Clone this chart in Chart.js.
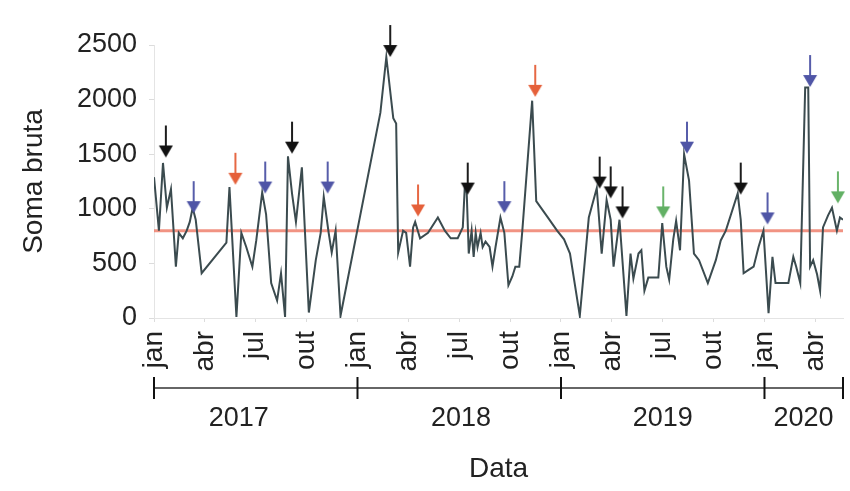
<!DOCTYPE html>
<html lang="pt">
<head>
<meta charset="utf-8">
<title>Soma bruta por data</title>
<script src="https://cdn.jsdelivr.net/npm/chart.js@4/dist/chart.umd.min.js"></script>
<style>
  html, body { margin: 0; padding: 0; background: #fff; }
  canvas { display: block; }
</style>
</head>
<body>
<canvas id="somaChart" width="850" height="491"></canvas>
<script>
/* ================================
   Dados (meses desde jan/2017)
================================ */
const MES_FIM = 40.63;

const mesesSerie = [
  0, 0.29, 0.53, 0.76, 1.00, 1.29, 1.46, 1.70, 1.93, 2.11,
  2.28, 2.46, 2.81, 4.27, 4.45, 4.86, 5.15, 5.44, 5.80, 6.03,
  6.38, 6.61, 6.91, 7.26, 7.49, 7.73, 7.90, 8.14, 8.37, 8.72,
  9.13, 9.54, 9.83, 10.01, 10.30, 10.48, 10.71, 11.00, 13.35, 13.70,
  14.11, 14.28, 14.40, 14.69, 14.87, 15.10, 15.28, 15.40, 15.69, 16.16,
  16.74, 17.15, 17.50, 17.91, 18.21, 18.32, 18.44, 18.56, 18.73, 18.85,
  18.97, 19.08, 19.26, 19.38, 19.55, 19.79, 19.96, 20.14, 20.43, 20.66,
  20.90, 21.13, 21.31, 21.54, 21.72, 22.30, 22.54, 23.18, 23.77, 24.18,
  24.53, 25.11, 25.64, 26.11, 26.40, 26.69, 26.93, 27.10, 27.45, 27.86,
  28.10, 28.27, 28.57, 28.74, 28.92, 29.15, 29.50, 29.74, 29.97, 30.21,
  30.38, 30.62, 30.79, 31.02, 31.26, 31.55, 31.84, 32.14, 32.66, 33.13,
  33.42, 33.72, 34.42, 34.60, 34.77, 35.06, 35.36, 35.65, 35.94, 36.24,
  36.47, 36.65, 36.94, 37.41, 37.70, 37.87, 38.11, 38.40, 38.58, 38.69,
  38.87, 39.10, 39.28, 39.45, 39.75, 39.98, 40.27, 40.45, 40.63
];

const somaBruta = [
  1290, 800, 1420, 1010, 1180, 470, 780, 730, 800, 880,
  1010, 900, 410, 690, 1200, 10, 780, 650, 470, 710,
  1150, 950, 320, 160, 410, 10, 1480, 1140, 880, 1380,
  50, 530, 780, 1110, 780, 600, 800, 20, 1880, 2390,
  1830, 1780, 600, 800, 780, 470, 830, 880, 730, 780,
  920, 800, 730, 730, 830, 1180, 1150, 590, 800, 560,
  780, 650, 780, 650, 700, 650, 470, 650, 920, 780,
  300, 380, 470, 470, 800, 1990, 1070, 930, 800, 720,
  590, 20, 920, 1190, 590, 1080, 900, 470, 900, 20,
  590, 360, 590, 620, 250, 370, 370, 370, 870, 470,
  350, 720, 890, 620, 1500, 1260, 590, 530, 320, 530,
  710, 800, 1140, 900, 410, 440, 470, 650, 800, 45,
  560, 320, 320, 320, 560, 470, 320, 2110, 2110, 470,
  530, 400, 250, 830, 940, 1010, 800, 920, 900
];

const limiar = 800;

// setas de anotação
const setaMes = [0.70, 2.34, 4.80, 6.56, 8.14, 10.24, 13.93, 15.57, 18.50, 20.66,
                 22.48, 26.28, 26.93, 27.63, 30.03, 31.43, 34.60, 36.18, 38.69, 40.33];
const setaVal = [1470, 960, 1220, 1140, 1505, 1140, 2390, 930, 1130, 960,
                 2025, 1185, 1095, 912, 912, 1505, 1130, 857, 2115, 1050];
const setaTipo = ["preto", "azul", "vermelho", "azul", "preto", "azul", "preto", "vermelho", "preto", "azul",
                  "vermelho", "preto", "preto", "preto", "verde", "azul", "preto", "azul", "azul", "verde"];

// eixos
const mesTicks = [0, 3, 6, 9, 12, 15, 18, 21, 24, 27, 30, 33, 36, 39];
const mesNomes = ["jan", "abr", "jul", "out"];
const anosLimites = [0, 12, 24, 36, MES_FIM];
const anosNomes = ["2017", "2018", "2019", "2020"];
const anosRotuloMes = [5, 18.1, 30, 38.3];
const yTicks = [0, 500, 1000, 1500, 2000, 2500];

/* ================================
   Estilo
================================ */
const FONTE = "'Liberation Sans', Arial, sans-serif";
const TXT = "#222";
const coresSeta = {
  preto: "#111111",
  azul: "#4f55a6",
  vermelho: "#e5603a",
  verde: "#62b064"
};

function setaCanvas(cor) {
  const L = 36, w = 16;
  const c = document.createElement("canvas");
  c.width = w;
  c.height = 2 * L;
  const g = c.getContext("2d");
  g.strokeStyle = cor;
  g.lineWidth = 1.9;
  g.beginPath();
  g.moveTo(w / 2, 4);
  g.lineTo(w / 2, L - 10);
  g.stroke();
  g.fillStyle = cor;
  g.beginPath();
  g.moveTo(1, L - 12);
  g.lineTo(w - 1, L - 12);
  g.lineTo(w / 2, L);
  g.closePath();
  g.fill();
  return c;
}

const setaImgs = {};
Object.keys(coresSeta).forEach(k => { setaImgs[k] = setaCanvas(coresSeta[k]); });

/* ================================
   Plugin: régua dos anos
================================ */
const reguaAnos = {
  id: "reguaAnos",
  afterDraw(chart) {
    const { ctx, chartArea, scales } = chart;
    const x = scales.x;
    const linhaY = chartArea.bottom + 70;
    const textoY = chartArea.bottom + 101;
    const px = anosLimites.map(v => x.getPixelForValue(v));

    ctx.save();
    ctx.strokeStyle = "#333";
    ctx.lineWidth = 1.6;
    ctx.beginPath();
    ctx.moveTo(px[0], linhaY);
    ctx.lineTo(px[px.length - 1], linhaY);
    ctx.stroke();

    ctx.strokeStyle = "#111";
    ctx.lineWidth = 2;
    px.forEach(p => {
      ctx.beginPath();
      ctx.moveTo(p, linhaY - 11);
      ctx.lineTo(p, linhaY + 11);
      ctx.stroke();
    });

    ctx.fillStyle = TXT;
    ctx.font = `27px ${FONTE}`;
    ctx.textAlign = "center";
    ctx.textBaseline = "middle";
    anosNomes.forEach((ano, i) => {
      ctx.fillText(ano, x.getPixelForValue(anosRotuloMes[i]), textoY);
    });
    ctx.restore();
  }
};

/* ================================
   Gráfico
================================ */
new Chart(document.getElementById("somaChart"), {
  type: "line",
  data: {
    datasets: [
      {
        label: "setas",
        data: setaMes.map((m, i) => ({ x: m, y: setaVal[i] })),
        showLine: false,
        pointRadius: 6,
        pointStyle: c => setaImgs[setaTipo[c.dataIndex]],
        clip: false,
        order: 1
      },
      {
        label: "Soma bruta",
        data: mesesSerie.map((m, i) => ({ x: m, y: somaBruta[i] })),
        borderColor: "#3b4b4f",
        borderWidth: 2,
        pointRadius: 0,
        tension: 0,
        order: 2
      },
      {
        label: "limiar",
        data: [{ x: 0, y: limiar }, { x: MES_FIM, y: limiar }],
        borderColor: "rgba(238, 120, 100, 0.8)",
        borderWidth: 3,
        pointRadius: 0,
        order: 3
      }
    ]
  },
  options: {
    responsive: false,
    animation: false,
    layout: { padding: { top: 45, right: 0, bottom: 0, left: 0 } },
    plugins: {
      legend: { display: false },
      tooltip: { enabled: false }
    },
    scales: {
      x: {
        type: "linear",
        min: 0,
        max: MES_FIM,
        afterBuildTicks: s => { s.ticks = mesTicks.map(v => ({ value: v })); },
        afterFit: s => {
          s.height = 173;
          s.paddingLeft = 0;
          s.paddingRight = 0;
        },
        ticks: {
          autoSkip: false,
          minRotation: 90,
          maxRotation: 90,
          padding: 9,
          color: TXT,
          font: { family: FONTE, size: 28 },
          callback: v => mesNomes[Math.round(v / 3) % 4]
        },
        grid: { drawOnChartArea: false, tickLength: 4, color: "#dcdcdc" },
        border: { color: "#e4e4e4" },
        title: {
          display: true,
          text: "Data",
          color: TXT,
          font: { family: FONTE, size: 28 },
          padding: { top: 0, bottom: 5 }
        }
      },
      y: {
        min: 0,
        max: 2500,
        afterBuildTicks: s => { s.ticks = yTicks.map(v => ({ value: v })); },
        afterFit: s => {
          s.width = 154;
          s.paddingTop = 0;
          s.paddingBottom = 0;
        },
        ticks: {
          padding: 12,
          color: TXT,
          font: { family: FONTE, size: 27 },
          callback: v => String(v)
        },
        grid: { drawOnChartArea: false, tickLength: 5, color: "#dcdcdc" },
        border: { color: "#e4e4e4" },
        title: {
          display: true,
          text: "Soma bruta",
          color: TXT,
          font: { family: FONTE, size: 28 },
          padding: { top: 17, bottom: 0 }
        }
      }
    }
  },
  plugins: [reguaAnos]
});
</script>
</body>
</html>
